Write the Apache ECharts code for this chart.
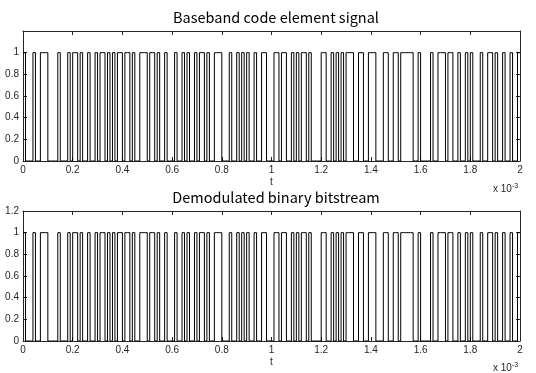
<!DOCTYPE html>
<html>
<head>
<meta charset="utf-8">
<script src="https://cdn.jsdelivr.net/npm/echarts@6/dist/echarts.min.js"></script>
<style>
html,body{margin:0;padding:0;background:#fff;}
#main{width:536px;height:373px;}
</style>
</head>
<body>
<div id="main"></div>
<script>
// bit duration (s)
var bitPeriod = 1e-5;
// baseband code elements (200 bits)
var basebandBits = [
  1,0,0,0,1,0,0,1,1,1, 0,0,0,0,1,0,0,0,1,0, 1,1,0,1,0,0,1,0,0,1, 0,1,1,0,1,0,1,0,1,1,
  0,1,1,0,1,0,0,1,1,1, 0,1,1,0,1,0,0,1,0,0, 0,1,0,0,1,0,1,0,0,1, 0,1,1,0,1,0,0,1,1,1,
  0,0,0,1,0,0,1,0,1,0, 1,0,0,1,0,0,1,1,0,0, 0,1,1,0,1,1,0,0,1,0, 1,0,1,1,0,1,0,0,0,0,
  1,1,0,0,1,0,1,0,1,0, 1,1,1,0,0,1,1,0,0,1, 1,1,0,0,0,1,1,0,0,1, 1,0,1,1,1,1,1,0,0,1,
  0,0,0,0,1,0,0,1,1,1, 0,1,1,0,0,1,0,0,1,0, 1,0,0,0,1,0,0,1,1,0, 1,0,0,1,0,0,1,0,0,1
];
// demodulated bitstream (same as the picture shows)
var demodBits = [
  1,0,0,0,1,0,0,1,1,1, 0,0,0,0,1,0,0,0,1,0, 1,1,0,1,0,0,1,0,0,1, 0,1,1,0,1,0,1,0,1,1,
  0,1,1,0,1,0,0,1,1,1, 0,1,1,0,1,0,0,1,0,0, 0,1,0,0,1,0,1,0,0,1, 0,1,1,0,1,0,0,1,1,1,
  0,0,0,1,0,0,1,0,1,0, 1,0,0,1,0,0,1,1,0,0, 0,1,1,0,1,1,0,0,1,0, 1,0,1,1,0,1,0,0,0,0,
  1,1,0,0,1,0,1,0,1,0, 1,1,1,0,0,1,1,0,0,1, 1,1,0,0,0,1,1,0,0,1, 1,0,1,1,1,1,1,0,0,1,
  0,0,0,0,1,0,0,1,1,1, 0,1,1,0,0,1,0,0,1,0, 1,0,0,0,1,0,0,1,1,0, 1,0,0,1,0,0,1,0,0,1
];
var titles = ['Baseband code element signal', 'Demodulated binary bitstream'];
var xLabel = 't';
var xTicks = [0,0.2,0.4,0.6,0.8,1,1.2,1.4,1.6,1.8,2]; // x 10^-3
var yTicksTop = [0,0.2,0.4,0.6,0.8,1];
var yTicksBottom = [0,0.2,0.4,0.6,0.8,1,1.2];

function toSeries(bits){
  var d = bits.map(function(b,i){ return [i*bitPeriod, b]; });
  d.push([bits.length*bitPeriod, bits[bits.length-1]]);
  return d;
}

var axisColor = '#262626';
var font = 'Liberation Sans';
var grids = [
  {left:23, right:16, top:31, height:130},
  {left:23, right:16, top:211, height:130}
];

function xAxisPair(gi){
  var base = {
    gridIndex: gi, type:'value', min:0, max:0.002, interval:0.0002,
    axisLine:{show:true, onZero:false, lineStyle:{color:axisColor, width:1}},
    axisTick:{show:true, inside:true, length:4, lineStyle:{color:axisColor}},
    splitLine:{show:false}
  };
  var bottom = Object.assign({}, base, {
    position:'bottom',
    name: xLabel, nameLocation:'middle', nameGap:16,
    nameTextStyle:{color:axisColor, fontSize:10, fontFamily:font},
    axisLabel:{show:true, color:axisColor, fontSize:10, fontFamily:font, margin:4,
      formatter:function(v){ return String(parseFloat((v*1000).toFixed(1))); }}
  });
  var top = Object.assign({}, base, {position:'top', axisLabel:{show:false}});
  return [bottom, top];
}
function yAxisPair(gi, ticks){
  var maxLabel = ticks[ticks.length-1];
  var base = {
    gridIndex: gi, type:'value', min:0, max:1.2, interval:0.2,
    axisLine:{show:true, onZero:false, lineStyle:{color:axisColor, width:1}},
    axisTick:{show:true, inside:true, length:4, lineStyle:{color:axisColor}},
    splitLine:{show:false}
  };
  var left = Object.assign({}, base, {
    position:'left',
    axisLabel:{show:true, color:axisColor, fontSize:10, fontFamily:font, margin:4,
      formatter:function(v){ var r = parseFloat(v.toFixed(1)); return r > maxLabel + 1e-9 ? '' : String(r); }}
  });
  var right = Object.assign({}, base, {position:'right', axisLabel:{show:false}});
  return [left, right];
}

var xAxes = xAxisPair(0).concat(xAxisPair(1));
var yAxes = yAxisPair(0, yTicksTop).concat(yAxisPair(1, yTicksBottom));

var chart = echarts.init(document.getElementById('main'), null, {renderer:'canvas'});
chart.setOption({
  animation:false,
  backgroundColor:'#fff',
  title:[
    {text:titles[0], left:271, top:5, textAlign:'center', textStyle:{fontSize:14.5, fontWeight:'normal', color:'#000', fontFamily:'Noto Sans CJK SC'}},
    {text:titles[1], left:271, top:185, textAlign:'center', textStyle:{fontSize:14.5, fontWeight:'normal', color:'#000', fontFamily:'Noto Sans CJK SC'}}
  ],
  grid: grids,
  xAxis: xAxes,
  yAxis: yAxes,
  series:[
    {type:'line', xAxisIndex:0, yAxisIndex:0, step:'end', showSymbol:false, data:toSeries(basebandBits), lineStyle:{color:'#000', width:1}},
    {type:'line', xAxisIndex:2, yAxisIndex:2, step:'end', showSymbol:false, data:toSeries(demodBits), lineStyle:{color:'#000', width:1}}
  ],
  graphic:[
    {type:'text', left:493, top:183, style:{text:'x 10{s|-3}', rich:{s:{fontSize:7, verticalAlign:'top', padding:[0,0,6,0], fill:axisColor}}, font:'10px Liberation Sans', fill:axisColor}},
    {type:'text', left:493, top:362, style:{text:'x 10{s|-3}', rich:{s:{fontSize:7, verticalAlign:'top', padding:[0,0,6,0], fill:axisColor}}, font:'10px Liberation Sans', fill:axisColor}}
  ]
});
</script>
</body>
</html>
